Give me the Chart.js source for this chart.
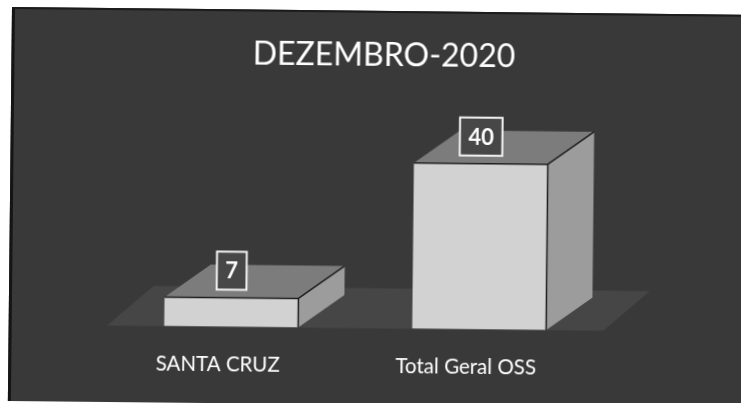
<!DOCTYPE html>
<html>
<head>
<meta charset="utf-8">
<script src="https://cdn.jsdelivr.net/npm/chart.js@4.4.1/dist/chart.umd.min.js"></script>
<style>
  html, body { margin: 0; padding: 0; background: #ffffff; width: 741px; height: 403px; overflow: hidden; }
  #frame {
    position: absolute; left: 12px; top: 7px;
    width: 760px; height: 392px;
    background: #393939;
    border-left: 3px solid #151515;
    border-top: 2px solid #1c1c1c;
    transform-origin: 0 0;
    transform: rotate(0.6deg);
  }
  canvas { display: block; }
</style>
</head>
<body>
<div id="frame"><canvas id="chart" width="760" height="392"></canvas></div>
<script>
// Categories and values shown on the chart
const categories = ['SANTA CRUZ', 'Total Geral OSS'];
const values = [7, 40];
const chartTitle = 'DEZEMBRO-2020';

// Depth of the extruded boxes and of the floor (pixels)
const DEPTH_X = 46, DEPTH_Y = -33;
const FLOOR_X = 46, FLOOR_Y = -40;

const COLORS = {
  front: '#d2d2d2',
  top: '#7c7c7c',
  side: '#9c9c9c',
  edge: '#1e1e1e',
  floor: '#464646',
  labelFill: '#474747'
};

function poly(ctx, pts, fill) {
  ctx.beginPath();
  ctx.moveTo(pts[0][0], pts[0][1]);
  for (let i = 1; i < pts.length; i++) ctx.lineTo(pts[i][0], pts[i][1]);
  ctx.closePath();
  ctx.fillStyle = fill;
  ctx.fill();
}

// Floor plane under the boxes
const floorPlugin = {
  id: 'floor3d',
  beforeDatasetsDraw(chart) {
    const { ctx, chartArea: a } = chart;
    const base = chart.scales.y.getPixelForValue(0);
    ctx.save();
    poly(ctx, [
      [a.left, base], [a.right, base],
      [a.right + FLOOR_X, base + FLOOR_Y], [a.left + FLOOR_X, base + FLOOR_Y]
    ], COLORS.floor);
    ctx.restore();
  }
};

// Top and side faces of each bar, then the boxed value labels
const boxPlugin = {
  id: 'box3d',
  afterDatasetsDraw(chart) {
    const { ctx } = chart;
    const meta = chart.getDatasetMeta(0);
    ctx.save();
    meta.data.forEach((bar, i) => {
      const p = bar.getProps(['x', 'y', 'base', 'width'], true);
      const l = p.x - p.width / 2, r = p.x + p.width / 2, t = p.y, b = p.base;
      poly(ctx, [[l, t], [r, t], [r + DEPTH_X, t + DEPTH_Y], [l + DEPTH_X, t + DEPTH_Y]], COLORS.top);
      poly(ctx, [[r, t], [r + DEPTH_X, t + DEPTH_Y], [r + DEPTH_X, b + DEPTH_Y], [r, b]], COLORS.side);
      ctx.strokeStyle = COLORS.edge;
      ctx.lineWidth = 1.5;
      ctx.beginPath();
      ctx.moveTo(l, t); ctx.lineTo(r, t); ctx.lineTo(r, b);
      ctx.moveTo(r, t); ctx.lineTo(r + DEPTH_X, t + DEPTH_Y);
      ctx.stroke();

      // value label in a framed box above the bar
      const txt = String(values[i]);
      ctx.font = 'bold 22px Lato';
      const tw = ctx.measureText(txt).width;
      const bw = tw + 17, bh = 38;
      const cx = p.x, cy = t - 27;
      ctx.fillStyle = COLORS.labelFill;
      ctx.fillRect(cx - bw / 2, cy - bh / 2, bw, bh);
      ctx.strokeStyle = '#f4f4f4';
      ctx.lineWidth = 2;
      ctx.strokeRect(cx - bw / 2, cy - bh / 2, bw, bh);
      ctx.fillStyle = '#ffffff';
      ctx.textAlign = 'center';
      ctx.textBaseline = 'middle';
      ctx.fillText(txt, cx, cy + 1);
    });
    ctx.restore();
  }
};

// Invisible side axes reserve the horizontal margins of the plot area
const hiddenAxis = (position, width) => ({
  type: 'linear',
  position,
  display: true,
  min: 0,
  max: 45,
  grid: { display: false, drawTicks: false },
  border: { display: false },
  ticks: { display: false },
  afterFit(scale) { scale.width = width; }
});

new Chart(document.getElementById('chart'), {
  type: 'bar',
  data: {
    labels: categories,
    datasets: [{
      data: values,
      backgroundColor: COLORS.front,
      borderWidth: 0,
      barPercentage: 0.54,
      categoryPercentage: 1,
      yAxisID: 'y'
    }]
  },
  options: {
    responsive: false,
    animation: false,
    devicePixelRatio: 1,
    layout: { padding: { left: 0, right: 21, top: 0, bottom: 0 } },
    scales: {
      x: {
        grid: { display: false, drawTicks: false },
        border: { display: false },
        ticks: {
          color: '#ffffff',
          font: { family: 'Lato', size: 20.5 },
          padding: 26,
          labelOffset: -13
        }
      },
      y: hiddenAxis('left', 95.5),
      yRight: hiddenAxis('right', 147.5)
    },
    plugins: {
      legend: { display: false },
      tooltip: { enabled: false },
      title: {
        display: true,
        text: chartTitle,
        color: '#ffffff',
        font: { family: 'Lato', size: 32, weight: 'normal' },
        padding: { top: 23, bottom: 67.6 }
      }
    }
  },
  plugins: [floorPlugin, boxPlugin]
});
</script>
</body>
</html>
